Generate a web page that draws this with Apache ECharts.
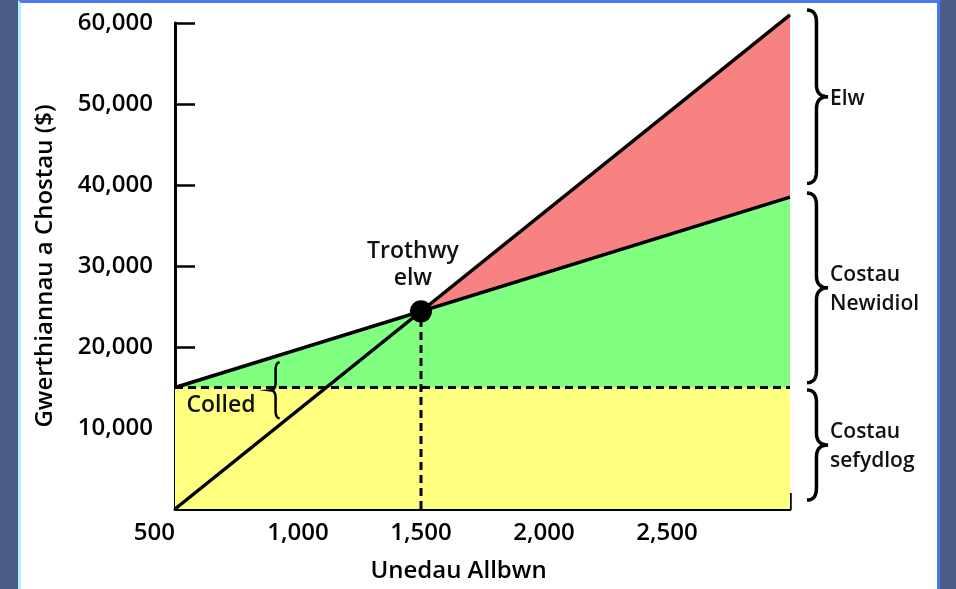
<!DOCTYPE html>
<html>
<head>
<meta charset="utf-8">
<script src="https://cdn.jsdelivr.net/npm/echarts@6/dist/echarts.min.js"></script>
<style>
  html, body { margin: 0; padding: 0; width: 956px; height: 589px; overflow: hidden; background: #4d5c85; }
  #panel { position: absolute; left: 18px; top: 0; width: 922px; height: 600px; background: #ffffff;
           border-top: 3px solid #4a78ee; border-right: 3px solid #4a78ee; border-left: 3px solid #aef2ff; box-sizing: border-box; }
  #chart { position: absolute; left: 0; top: 0; width: 956px; height: 589px; }
</style>
</head>
<body>
<div id="panel"></div>
<div id="chart"></div>
<script>
// ---- data ----
const units = [500, 3000];
const revenue = [0, 61000];
const totalCost = [15000, 38500];
const fixedCost = [15000, 15000];
const breakEvenUnits = 1500;
const breakEvenValue = 24400;
const xTicks = [500, 1000, 1500, 2000, 2500];
const yTicks = [10000, 20000, 30000, 40000, 50000, 60000];
const xName = 'Unedau Allbwn';
const yName = 'Gwerthiannau a Chostau ($)';

const pairs = (xs, ys) => xs.map((x, i) => [x, ys[i]]);
const FONT = '"Open Sans", "DejaVu Sans", sans-serif';
const fmt = v => v.toLocaleString('en-US');

const chart = echarts.init(document.getElementById('chart'), null, { renderer: 'canvas' });

const option = {
  backgroundColor: 'transparent',
  animation: false,
  grid: { left: 175, right: 166, top: 23, bottom: 80, containLabel: false },
  xAxis: {
    type: 'value', min: 500, max: 3000, interval: 500,
    axisLine: { show: true, lineStyle: { color: '#000', width: 3 } },
    axisTick: { show: true, inside: true, length: 16, lineStyle: { color: '#000', width: 2.5 } },
    axisLabel: {
      color: '#000', fontFamily: FONT, fontSize: 24, fontWeight: 600, margin: 12,
      alignMinLabel: 'right',
      formatter: v => xTicks.includes(v) ? fmt(v) : ''
    },
    splitLine: { show: false },
    name: xName, nameLocation: 'middle', nameGap: 50,
    nameTextStyle: { color: '#000', fontFamily: FONT, fontSize: 24, fontWeight: 600, padding: [0, 48, 0, 0] }
  },
  yAxis: {
    type: 'value', min: 0, max: 60000, interval: 10000,
    axisLine: { show: true, lineStyle: { color: '#000', width: 3 } },
    axisTick: { show: true, inside: true, length: 20, lineStyle: { color: '#000', width: 2.5 } },
    axisLabel: {
      color: '#000', fontFamily: FONT, fontSize: 24, fontWeight: 600, margin: 22,
      formatter: v => yTicks.includes(v) ? fmt(v) : ''
    },
    splitLine: { show: false },
    name: yName, nameLocation: 'middle', nameGap: 118, nameRotate: 90,
    nameTextStyle: { color: '#000', fontFamily: FONT, fontSize: 24, fontWeight: 600 }
  },
  series: [
    { type: 'line', data: pairs(units, revenue), symbol: 'none', clip: false,
      lineStyle: { width: 0 }, areaStyle: { color: '#f88282', opacity: 1, origin: 'start' }, z: 1 },
    { type: 'line', data: pairs(units, totalCost), symbol: 'none', clip: false,
      lineStyle: { width: 0 }, areaStyle: { color: '#80ff80', opacity: 1, origin: 'start' }, z: 2 },
    { type: 'line', data: pairs(units, fixedCost), symbol: 'none', clip: false,
      lineStyle: { width: 0 }, areaStyle: { color: '#ffff80', opacity: 1, origin: 'start' }, z: 3 },
    { type: 'line', data: pairs(units, fixedCost), symbol: 'none', clip: false,
      lineStyle: { color: '#000', width: 3, type: [8, 5] }, z: 4 },
    { type: 'line', data: [[breakEvenUnits, 0], [breakEvenUnits, breakEvenValue]], symbol: 'none', clip: false,
      lineStyle: { color: '#000', width: 3, type: [8, 5] }, z: 4 },
    { type: 'line', data: pairs(units, totalCost), symbol: 'none', clip: false,
      lineStyle: { color: '#000', width: 3.5 }, z: 5 },
    { type: 'line', data: pairs(units, revenue), symbol: 'none', clip: false,
      lineStyle: { color: '#000', width: 3.5 }, z: 5 },
    { type: 'scatter', data: [[breakEvenUnits, breakEvenValue]], symbol: 'circle', symbolSize: 22,
      itemStyle: { color: '#000', opacity: 1 }, z: 6, clip: false }
  ]
};
chart.setOption(option);

// ---- annotations (braces & labels) ----
const px = (x, y) => chart.convertToPixel({ gridIndex: 0 }, [x, y]);

function quad(p0, c, p1, n, out) {
  for (let i = 1; i <= n; i++) {
    const t = i / n, a = (1 - t) * (1 - t), b = 2 * (1 - t) * t, d = t * t;
    out.push([a * p0[0] + b * c[0] + d * p1[0], a * p0[1] + b * c[1] + d * p1[1]]);
  }
}
// dir = +1: "}" tip to the right, dir = -1: "{" tip to the left
function bracePoints(x0, y1, y2, w, dir, rMax) {
  const xs = x0 + dir * w * 0.45, xt = x0 + dir * w, ym = (y1 + y2) / 2, r = Math.min(rMax, (y2 - y1) / 6);
  const pts = [[x0, y1]];
  quad([x0, y1], [xs, y1], [xs, y1 + r], 8, pts);
  pts.push([xs, ym - r]);
  quad([xs, ym - r], [xs, ym], [xt, ym], 8, pts);
  quad([xt, ym], [xs, ym], [xs, ym + r], 8, pts);
  pts.push([xs, y2 - r]);
  quad([xs, y2 - r], [xs, y2], [x0, y2], 8, pts);
  return pts;
}

const rightX = px(3000, 0)[0];
const bx = rightX + 17;
const braces = [
  { top: 61600, bottom: 40200, lines: ['Elw'] },
  { top: 39000, bottom: 15600, lines: ['Costau', 'Newidiol'] },
  { top: 14700, bottom: 1100, lines: ['Costau', 'sefydlog'] }
];
const graphic = [];
braces.forEach(b => {
  const y1 = px(3000, b.top)[1], y2 = px(3000, b.bottom)[1];
  graphic.push({
    type: 'polyline', shape: { points: bracePoints(bx, y1, y2, 21, 1, 12) },
    style: { stroke: '#000', lineWidth: 3.5, fill: null }, z: 10
  });
  graphic.push({
    type: 'text', x: bx + 23, y: (y1 + y2) / 2 + 2,
    style: { text: b.lines.join('\n'), font: `600 21px ${FONT}`, fill: '#111', lineHeight: 29,
             textAlign: 'left', textVerticalAlign: 'middle' }, z: 10
  });
});
// loss brace
const lb1 = px(905, 18100), lb2 = px(905, 11200);
graphic.push({
  type: 'polyline', shape: { points: bracePoints(lb1[0] + 5, lb1[1], lb2[1], 9, -1, 8) },
  style: { stroke: '#000', lineWidth: 2.5, fill: null }, z: 10
});
const ct = px(695, 12800);
graphic.push({
  type: 'text', x: ct[0] - 2, y: ct[1],
  style: { text: 'Colled', font: `600 23px ${FONT}`, fill: '#111', textAlign: 'center', textVerticalAlign: 'middle' }, z: 10
});
const tt = px(1467, 30100);
graphic.push({
  type: 'text', x: tt[0], y: tt[1],
  style: { text: 'Trothwy\nelw', font: `600 23px ${FONT}`, fill: '#111', lineHeight: 27,
           textAlign: 'center', textVerticalAlign: 'middle' }, z: 10
});
chart.setOption({ graphic: graphic });
</script>
</body>
</html>
